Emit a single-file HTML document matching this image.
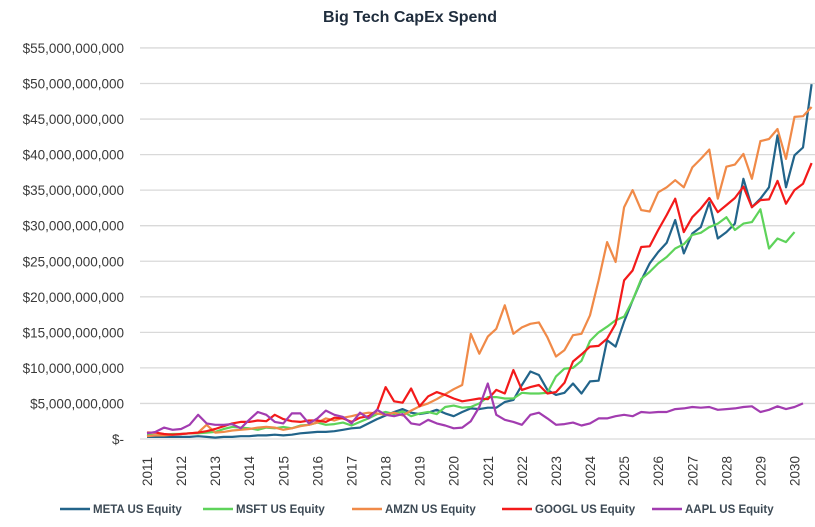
<!DOCTYPE html>
<html><head><meta charset="utf-8"><style>
body{margin:0;background:#fff;}
svg{display:block;font-family:"Liberation Sans",sans-serif;}
</style></head><body>
<svg id="chart" width="815" height="527" viewBox="0 0 815 527" xmlns="http://www.w3.org/2000/svg">
<text x="410" y="22" text-anchor="middle" font-size="16" font-weight="bold" fill="#1f2d3d">Big Tech CapEx Spend</text>
<g id="grid"></g><g id="ylabels"></g><g id="xlabels"></g><g id="series"></g><g id="legend"></g>
</svg>
<script>
const yTicks=[0,5,10,15,20,25,30,35,40,45,50,55];
const yTickLabels=["$-","$5,000,000,000","$10,000,000,000","$15,000,000,000","$20,000,000,000","$25,000,000,000","$30,000,000,000","$35,000,000,000","$40,000,000,000","$45,000,000,000","$50,000,000,000","$55,000,000,000"];
const years=["2011","2012","2013","2014","2015","2016","2017","2018","2019","2020","2021","2022","2023","2024","2025","2026","2027","2028","2029","2030"];
const seriesNames=["META US Equity","MSFT US Equity","AMZN US Equity","GOOGL US Equity","AAPL US Equity"];
const seriesColors=["#22648a","#5ed35a","#f08a48","#f31a1a","#a23cb0"];
const meta=[0.3,0.3,0.3,0.3,0.3,0.3,0.4,0.3,0.2,0.3,0.3,0.4,0.4,0.5,0.5,0.6,0.5,0.6,0.8,0.9,1.0,1.0,1.1,1.3,1.5,1.6,2.2,2.8,3.3,3.8,4.2,3.7,3.5,3.7,4.1,3.6,3.2,3.8,
4.3,4.2,4.4,4.4,5.2,5.5,7.6,9.5,9.0,6.9,6.2,6.5,7.8,6.4,8.1,8.2,13.9,13.0,16.5,19.5,22.3,24.7,26.3,27.6,30.8,26.1,28.9,29.8,33.3,28.2,29.1,30.3,36.6,32.6,33.8,35.4,42.7,35.4,39.9,41.0,49.9];
const msft=[0.6,0.5,0.6,0.7,0.7,0.8,0.8,0.9,1.0,1.4,1.7,1.6,1.5,1.3,1.6,1.5,1.7,1.5,1.9,2.0,2.3,2.0,2.1,2.3,1.9,2.4,2.9,3.5,3.8,3.5,3.9,3.2,3.6,3.8,3.5,4.5,4.7,4.4,
4.5,5.0,5.9,5.9,5.7,5.7,6.5,6.4,6.4,6.5,8.8,9.9,10.0,11.0,13.8,15.0,15.8,16.7,17.2,19.5,22.5,23.5,24.7,25.6,26.8,27.4,28.7,29.0,29.8,30.3,31.2,29.4,30.3,30.5,32.3,26.8,28.2,27.7,29.1];
const amzn=[0.4,0.5,0.5,0.6,0.7,0.8,0.9,2.0,0.9,1.0,1.2,1.3,1.4,1.6,1.7,1.6,1.3,1.5,1.8,2.0,2.3,2.9,2.6,3.0,3.2,3.5,3.7,3.6,3.4,3.7,3.3,4.0,4.6,5.0,5.6,6.3,7.0,7.6,
14.8,12.0,14.4,15.5,18.8,14.8,15.7,16.2,16.4,14.3,11.6,12.5,14.6,14.8,17.4,22.3,27.7,24.9,32.6,35.0,32.2,32.0,34.7,35.4,36.4,35.4,38.2,39.4,40.7,33.8,38.3,38.6,40.1,36.6,41.9,42.2,43.6,39.4,45.3,45.4,46.7];
const googl=[0.9,0.9,0.7,0.6,0.7,0.8,0.9,1.1,1.4,1.8,2.2,2.4,2.4,2.6,2.5,3.4,2.8,2.5,2.4,2.6,2.6,2.4,3.0,2.9,2.4,3.0,3.2,4.0,7.3,5.3,5.1,7.1,4.6,6.0,6.6,6.2,5.7,5.3,
5.5,5.7,5.6,6.9,6.4,9.7,6.9,7.3,7.6,6.4,6.6,7.9,10.9,11.9,13.0,13.1,14.1,16.2,22.3,23.7,27.0,27.1,29.4,31.5,33.8,29.1,31.2,32.4,33.9,31.9,32.9,33.9,35.5,32.6,33.6,33.7,36.3,33.1,35.0,35.9,38.8];
const aapl=[0.8,1.0,1.6,1.3,1.4,2.0,3.4,2.2,2.0,2.0,2.1,1.5,2.7,3.8,3.4,2.4,2.2,3.6,3.6,2.2,2.9,4.0,3.4,3.1,2.2,3.7,2.9,4.1,3.4,3.2,3.5,2.2,2.0,2.7,2.2,1.9,1.5,1.6,2.5,4.5,7.8,
3.4,2.7,2.4,2.0,3.4,3.7,2.9,2.0,2.1,2.3,1.9,2.2,2.9,2.9,3.2,3.4,3.2,3.8,3.7,3.8,3.8,4.2,4.3,4.5,4.4,4.5,4.1,4.2,4.3,4.5,4.6,3.8,4.1,4.6,4.2,4.5,5.0];
const allSeries=[meta,msft,amzn,googl,aapl];

const NS="http://www.w3.org/2000/svg";
const xScale=i=>147+8.52*i;
const yScale=v=>439-v*7.11;
function mk(tag,attrs,parent){const e=document.createElementNS(NS,tag);for(const k in attrs)e.setAttribute(k,attrs[k]);parent.appendChild(e);return e;}
const grid=document.getElementById('grid'),yl=document.getElementById('ylabels'),xl=document.getElementById('xlabels'),sg=document.getElementById('series'),lg=document.getElementById('legend');
yTicks.forEach((t,k)=>{
  const l=mk('line',{x1:140,x2:815,y1:yScale(t),y2:yScale(t),stroke:'#d9d9d9','stroke-width':1.3},grid);
  
  
  const tx=mk('text',{x:124,y:yScale(t)+5,'text-anchor':'end','font-size':13.5,fill:'#3a3a3a'},yl);
  
  
  tx.textContent=yTickLabels[k];
});
years.forEach((y,k)=>{
  const x=xScale(k*4);
  const tx=mk('text',{x:0,y:0,transform:`translate(${x+5},486) rotate(-90)`,'font-size':13.5,fill:'#3a3a3a'},xl);
  
  
  tx.textContent=y;
});
allSeries.forEach((s,k)=>{
  const d=s.map((v,i)=>(i?'L':'M')+xScale(i).toFixed(1)+','+yScale(v).toFixed(1)).join('');
  const p=mk('path',{d:d,fill:'none',stroke:seriesColors[k],'stroke-width':2.2,'stroke-linejoin':'round'},sg);
  
  
});
const legX=[60,203,352,502,652];
seriesNames.forEach((n,k)=>{
  const g=mk('g',{},lg);
  
  
  mk('line',{x1:legX[k],x2:legX[k]+30,y1:509,y2:509,stroke:seriesColors[k],'stroke-width':2.5},g);
  const t=mk('text',{x:legX[k]+33,y:513,'font-size':11.5,'font-weight':'bold',fill:'#3d4a55'},g);
  t.textContent=n;
});
</script>
</body></html>
